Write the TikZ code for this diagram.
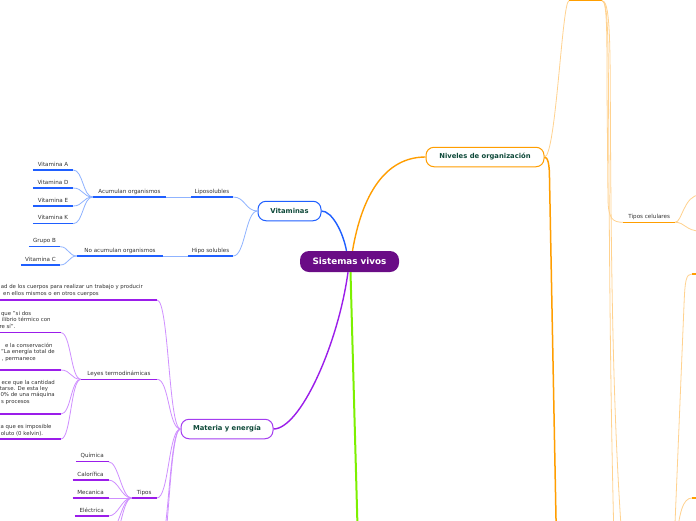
\documentclass[tikz,border=0pt]{standalone}
\usepackage{fontspec}
\setmainfont{DejaVu Sans}
\usetikzlibrary{calc}
\definecolor{txt}{HTML}{333333}
\definecolor{dkg}{HTML}{0F4A3A}
\definecolor{cpur}{HTML}{6A0C86}
\definecolor{bS}{HTML}{1F5FFF}
\definecolor{bL}{HTML}{8FB3FF}
\definecolor{pS}{HTML}{9B1DEA}
\definecolor{pL}{HTML}{CF8FFF}
\definecolor{pM}{HTML}{A43CF0}
\definecolor{oS}{HTML}{FF9E00}
\definecolor{oL}{HTML}{FFD28F}
\definecolor{gS}{HTML}{7CF000}
\newcommand{\cnR}[4]{\draw[#1] (#2) .. controls +(#4,0) and +(-#4,0) .. (#3);}
\newcommand{\cnL}[4]{\draw[#1] (#2) .. controls +(-#4,0) and +(#4,0) .. (#3);}
\begin{document}
\begin{tikzpicture}[x=1pt,y=-1pt,
 lbl/.style={font=\fontsize{5.6}{6.5}\selectfont, text=txt},
 leaf/.style={lbl, inner xsep=0pt, inner ysep=0pt, text height=4pt, text depth=3.7pt, anchor=south},
 frag/.style={font=\fontsize{5.4}{6.5}\selectfont, text=txt, inner sep=0pt, anchor=base east},
 topic/.style={draw, fill=white, rounded corners=8pt, line width=1pt, font=\bfseries\fontsize{6.8}{8}\selectfont, text=dkg, minimum height=19.5pt, inner sep=0pt},
 ulB/.style={bS, line width=1.5pt},
 ulP/.style={pS, line width=1.5pt},
 ulO/.style={oS, line width=1.5pt},
 cB/.style={bL, line width=0.8pt},
 cP/.style={pL, line width=0.8pt},
 cO/.style={oL, line width=0.8pt},
]
\useasboundingbox (0,0) rectangle (696,520);
\clip (0,0) rectangle (696,520);
\fill[white] (0,0) rectangle (696,520);

% central and main topics
\node[fill=cpur, rounded corners=9pt, minimum width=99pt, minimum height=21pt, inner sep=0pt, text=white, font=\bfseries\fontsize{8.8}{10}\selectfont] (sv) at (349.5,261.5) {Sistemas vivos};
\node[topic, draw=bS, minimum width=63pt] (vit) at (289.5,211) {Vitaminas};
\node[topic, draw=oS, minimum width=118pt] (niv) at (485,157) {Niveles de organización};
\node[topic, draw=pM, minimum width=92pt] (mat) at (227,429) {Materia y energía};

\draw[bS, line width=1.4pt] (vit.east) .. controls (332,211) and (343,232) .. ($(sv.north)+(-3,0)$);
\draw[oS, line width=1.4pt] ($(sv.north)+(3,0)$) .. controls (362,195) and (385,157) .. (niv.west);
\draw[pS, line width=1.4pt] ($(sv.south)+(-1.5,0)$) .. controls (338,345) and (300,429) .. (mat.east);
\coordinate (gEnd) at (358,545);
\draw[gS, line width=2pt] ($(sv.south)+(1,0)$) -- (gEnd);

% Vitaminas subtree
\node[leaf, minimum width=42pt] (lipo) at (212,197) {Liposolubles};
\node[leaf, minimum width=73pt] (acum) at (129.5,197) {Acumulan organismos};
\node[leaf, minimum width=40pt] (vA) at (53,170) {Vitamina A};
\node[leaf, minimum width=40pt] (vD) at (53,188) {Vitamina D};
\node[leaf, minimum width=40pt] (vE) at (53,206) {Vitamina E};
\node[leaf, minimum width=40pt] (vK) at (53,223.7) {Vitamina K};
\node[leaf, minimum width=45pt] (hipo) at (210.5,256) {Hipo solubles};
\node[leaf, minimum width=86pt] (noac) at (120,256) {No acumulan organismos};
\node[leaf, minimum width=31pt] (grB) at (44.5,246.7) {Grupo B};
\node[leaf, minimum width=39pt] (vC) at (40.5,265) {Vitamina C};

\cnL{cB}{vit.west}{lipo.south east}{12}
\cnL{cB}{vit.west}{hipo.south east}{12}
\draw[cB] (lipo.south west) -- (acum.south east);
\draw[cB] (hipo.south west) -- (noac.south east);
\foreach \n in {vA,vD,vE,vK} {\cnL{cB}{acum.south west}{\n.south east}{10}}
\foreach \n in {grB,vC} {\cnL{cB}{noac.south west}{\n.south east}{8}}
\foreach \n in {lipo,acum,vA,vD,vE,vK,hipo,noac,grB,vC} {\draw[ulB] (\n.south west) -- (\n.south east);}

% Materia y energia subtree
\node[frag] (e1) at (143,288.5) {ad de los cuerpos para realizar un trabajo y producir};
\node[frag] (e2) at (99,295) {en ellos mismos o en otros cuerpos};
\coordinate (enL) at (-2,300); \coordinate (enR) at (157,300);

\node[leaf, minimum width=76pt] (ley) at (119,379.3) {Leyes termodinámicas};
\node[frag] (z0a) at (31.5,315.3) {que "si dos};
\node[frag] (z0b) at (50.7,321.7) {ilibrio térmico con};
\node[frag] (z0c) at (15.7,328.3) {re sí".};
\coordinate (z0l) at (-2,332.7); \coordinate (z0r) at (61,332.7);
\node[frag] (z1a) at (52.7,347) {e la conservación};
\node[frag] (z1b) at (55,353.3) {"La energía total de};
\node[frag] (z1c) at (36,360.5) {, permanece};
\coordinate (z1l) at (-2,370); \coordinate (z1r) at (61,370);
\node[frag] (z2a) at (55,384) {ece que la cantidad};
\node[frag] (z2b) at (48.3,390) {tarse. De esta ley};
\node[frag] (z2c) at (55,396.5) {0\% de una máquina};
\node[frag] (z2d) at (30,403) {s procesos};
\coordinate (z2l) at (-2,414); \coordinate (z2r) at (61,414);
\node[frag] (z3a) at (51.7,428) {ca que es imposible};
\node[frag] (z3b) at (43.3,435) {oluto (0 kelvin).};
\coordinate (z3l) at (-2,439); \coordinate (z3r) at (61,439);

\node[leaf, minimum width=25pt] (tip) at (144.2,498) {Tipos};
\node[leaf, minimum width=32.3pt] (qui) at (92.2,461.7) {Química};
\node[leaf, minimum width=35.6pt] (cal) at (90.5,480) {Calorífica};
\node[leaf, minimum width=35.6pt] (mec) at (90.5,498) {Mecanica};
\node[leaf, minimum width=33.3pt] (ele) at (91.7,516) {Eléctrica};
\coordinate (tx1) at (108.3,534); \coordinate (tx2) at (108.3,552);
\coordinate (mx1) at (157,556); \coordinate (mx2) at (157,575);

\cnL{cP}{mat.west}{enR}{12}
\cnL{cP}{mat.west}{ley.south east}{12}
\cnL{cP}{mat.west}{tip.south east}{12}
\cnL{cP}{mat.west}{mx1}{12}
\cnL{cP}{mat.west}{mx2}{12}
\foreach \c in {z0r,z1r,z2r,z3r} {\cnL{cP}{ley.south west}{\c}{10}}
\foreach \n in {qui,cal,ele} {\cnL{cP}{tip.south west}{\n.south east}{10}}
\draw[cP] (tip.south west) -- (mec.south east);
\cnL{cP}{tip.south west}{tx1}{10}
\cnL{cP}{tip.south west}{tx2}{10}
\draw[ulP] (enL) -- (enR);
\foreach \z in {z0,z1,z2,z3} {\draw[ulP] (\z l) -- (\z r);}
\foreach \n in {ley,tip,qui,cal,mec,ele} {\draw[ulP] (\n.south west) -- (\n.south east);}

% Niveles de organizacion subtree
\coordinate (tbL) at (569,0.7); \coordinate (tbR) at (602,0.7);
\coordinate (nivLow) at (556.5,545);
\draw[cO] (niv.east) .. controls (556,157) and (562,0.7) .. (tbL);
\draw[oS, line width=1.5pt] (niv.east) .. controls (548,157) and (549.5,165) .. (549.5,178) -- (nivLow);
\draw[ulO] (tbL) -- (tbR);

\node[leaf, minimum width=51.7pt] (tc) at (649.2,222.3) {Tipos celulares};
\coordinate (bx1) at (614,540); \coordinate (bx2) at (622,540);
\draw[cO] (tbR) .. controls (607,0.7) and (607,30) .. (607,90) -- (608,200) .. controls (608.5,218) and (612,222.3) .. (tc.south west);
\draw[cO] (tbR) .. controls (607.5,0.7) and (608,30) .. (608.5,90) .. controls (609.5,300) and (611,420) .. (bx1);
\draw[cO] (tbR) .. controls (609,0.7) and (610,30) .. (610.3,90) .. controls (611,300) and (614,430) .. (bx2);
\coordinate (tcU) at (700,195); \coordinate (tcD) at (700,231);
\draw[cO] (tc.south east) .. controls (682,222.3) and (684,195) .. (tcU);
\draw[cO] (tc.south east) .. controls (685,222.3) and (686,231) .. (tcD);
\draw[ulO] (tc.south west) -- (tc.south east);

\coordinate (r1) at (692,274); \coordinate (r1e) at (700,274); \coordinate (r1p) at (673.5,560);
\draw[cO] (r1p) -- (684,305) .. controls (685,280) and (686,274) .. (r1);
\draw[ulO] (r1) -- (r1e);
\coordinate (r2) at (692,498); \coordinate (r2e) at (700,498); \coordinate (r2p) at (676,545);
\draw[cO] (r2p) .. controls (679,512) and (683,498) .. (r2);
\draw[ulO] (r2) -- (r2e);
\end{tikzpicture}
\end{document}
